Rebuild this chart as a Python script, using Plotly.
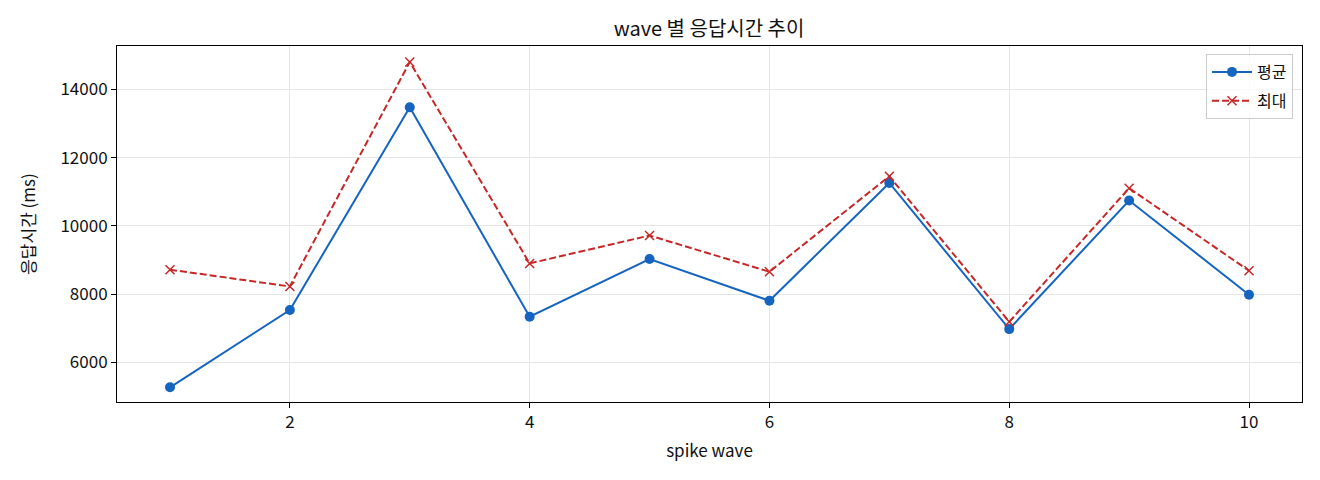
import plotly.graph_objects as go

waves = [1, 2, 3, 4, 5, 6, 7, 8, 9, 10]
avg_ms = [5267, 7531, 13472, 7334, 9027, 7804, 11255, 6973, 10742, 7980]
max_ms = [8713, 8223, 14801, 8898, 9716, 8654, 11452, 7188, 11103, 8684]

FONT = "Noto Sans CJK KR"

fig = go.Figure()
fig.add_trace(go.Scatter(
    x=waves, y=avg_ms, name="평균", mode="lines+markers", legendgroup="a",
    line=dict(color="#1565C0", width=2),
    marker=dict(symbol="circle", size=10, color="#1565C0"),
))
fig.add_trace(go.Scatter(
    x=waves, y=max_ms, name="최대", mode="lines+markers", legendgroup="b",
    line=dict(color="#C62828", width=2, dash="7px,3px"),
    marker=dict(symbol="x-thin", size=9, color="#C62828",
                line=dict(color="#C62828", width=1.5)),
))

W, H = 1312, 472
fig.update_layout(
    width=W, height=H,
    margin=dict(l=109, r=18, t=38, b=78),
    paper_bgcolor="white", plot_bgcolor="white",
    font=dict(family=FONT, size=17, color="#111"),
    title=dict(text="wave 별 응답시간 추이", x=(709 - 8) / W, xanchor="center",
               y=1 - 21 / H, yanchor="middle", font=dict(size=20, color="#111")),
    showlegend=True,
    legend=dict(x=(1293 - 117) / 1185, xanchor="right",
                y=1 - (54 - 46) / 356, yanchor="top",
                bgcolor="rgba(255,255,255,0.8)", bordercolor="#cccccc", borderwidth=1,
                font=dict(size=16), tracegroupgap=5, itemwidth=40),
)
fig.update_xaxes(
    range=[0.558, 10.442], tickvals=[2, 4, 6, 8, 10],
    showline=True, linecolor="black", linewidth=1, mirror=True,
    ticks="outside", ticklen=5, tickcolor="black",
    showgrid=True, gridcolor="#e6e6e6", gridwidth=1, zeroline=False,
    tickfont=dict(size=17),
    title=dict(text="spike wave", standoff=12, font=dict(size=17)),
)
fig.update_yaxes(
    range=[4836, 15270], tickvals=[6000, 8000, 10000, 12000, 14000],
    tickformat="d",
    showline=True, linecolor="black", linewidth=1, mirror=True,
    ticks="outside", ticklen=5, tickcolor="black",
    showgrid=True, gridcolor="#e6e6e6", gridwidth=1, zeroline=False,
    tickfont=dict(size=17),
    title=dict(text="응답시간 (ms)", standoff=20, font=dict(size=17)),
)

fig.write_html("out.html")
